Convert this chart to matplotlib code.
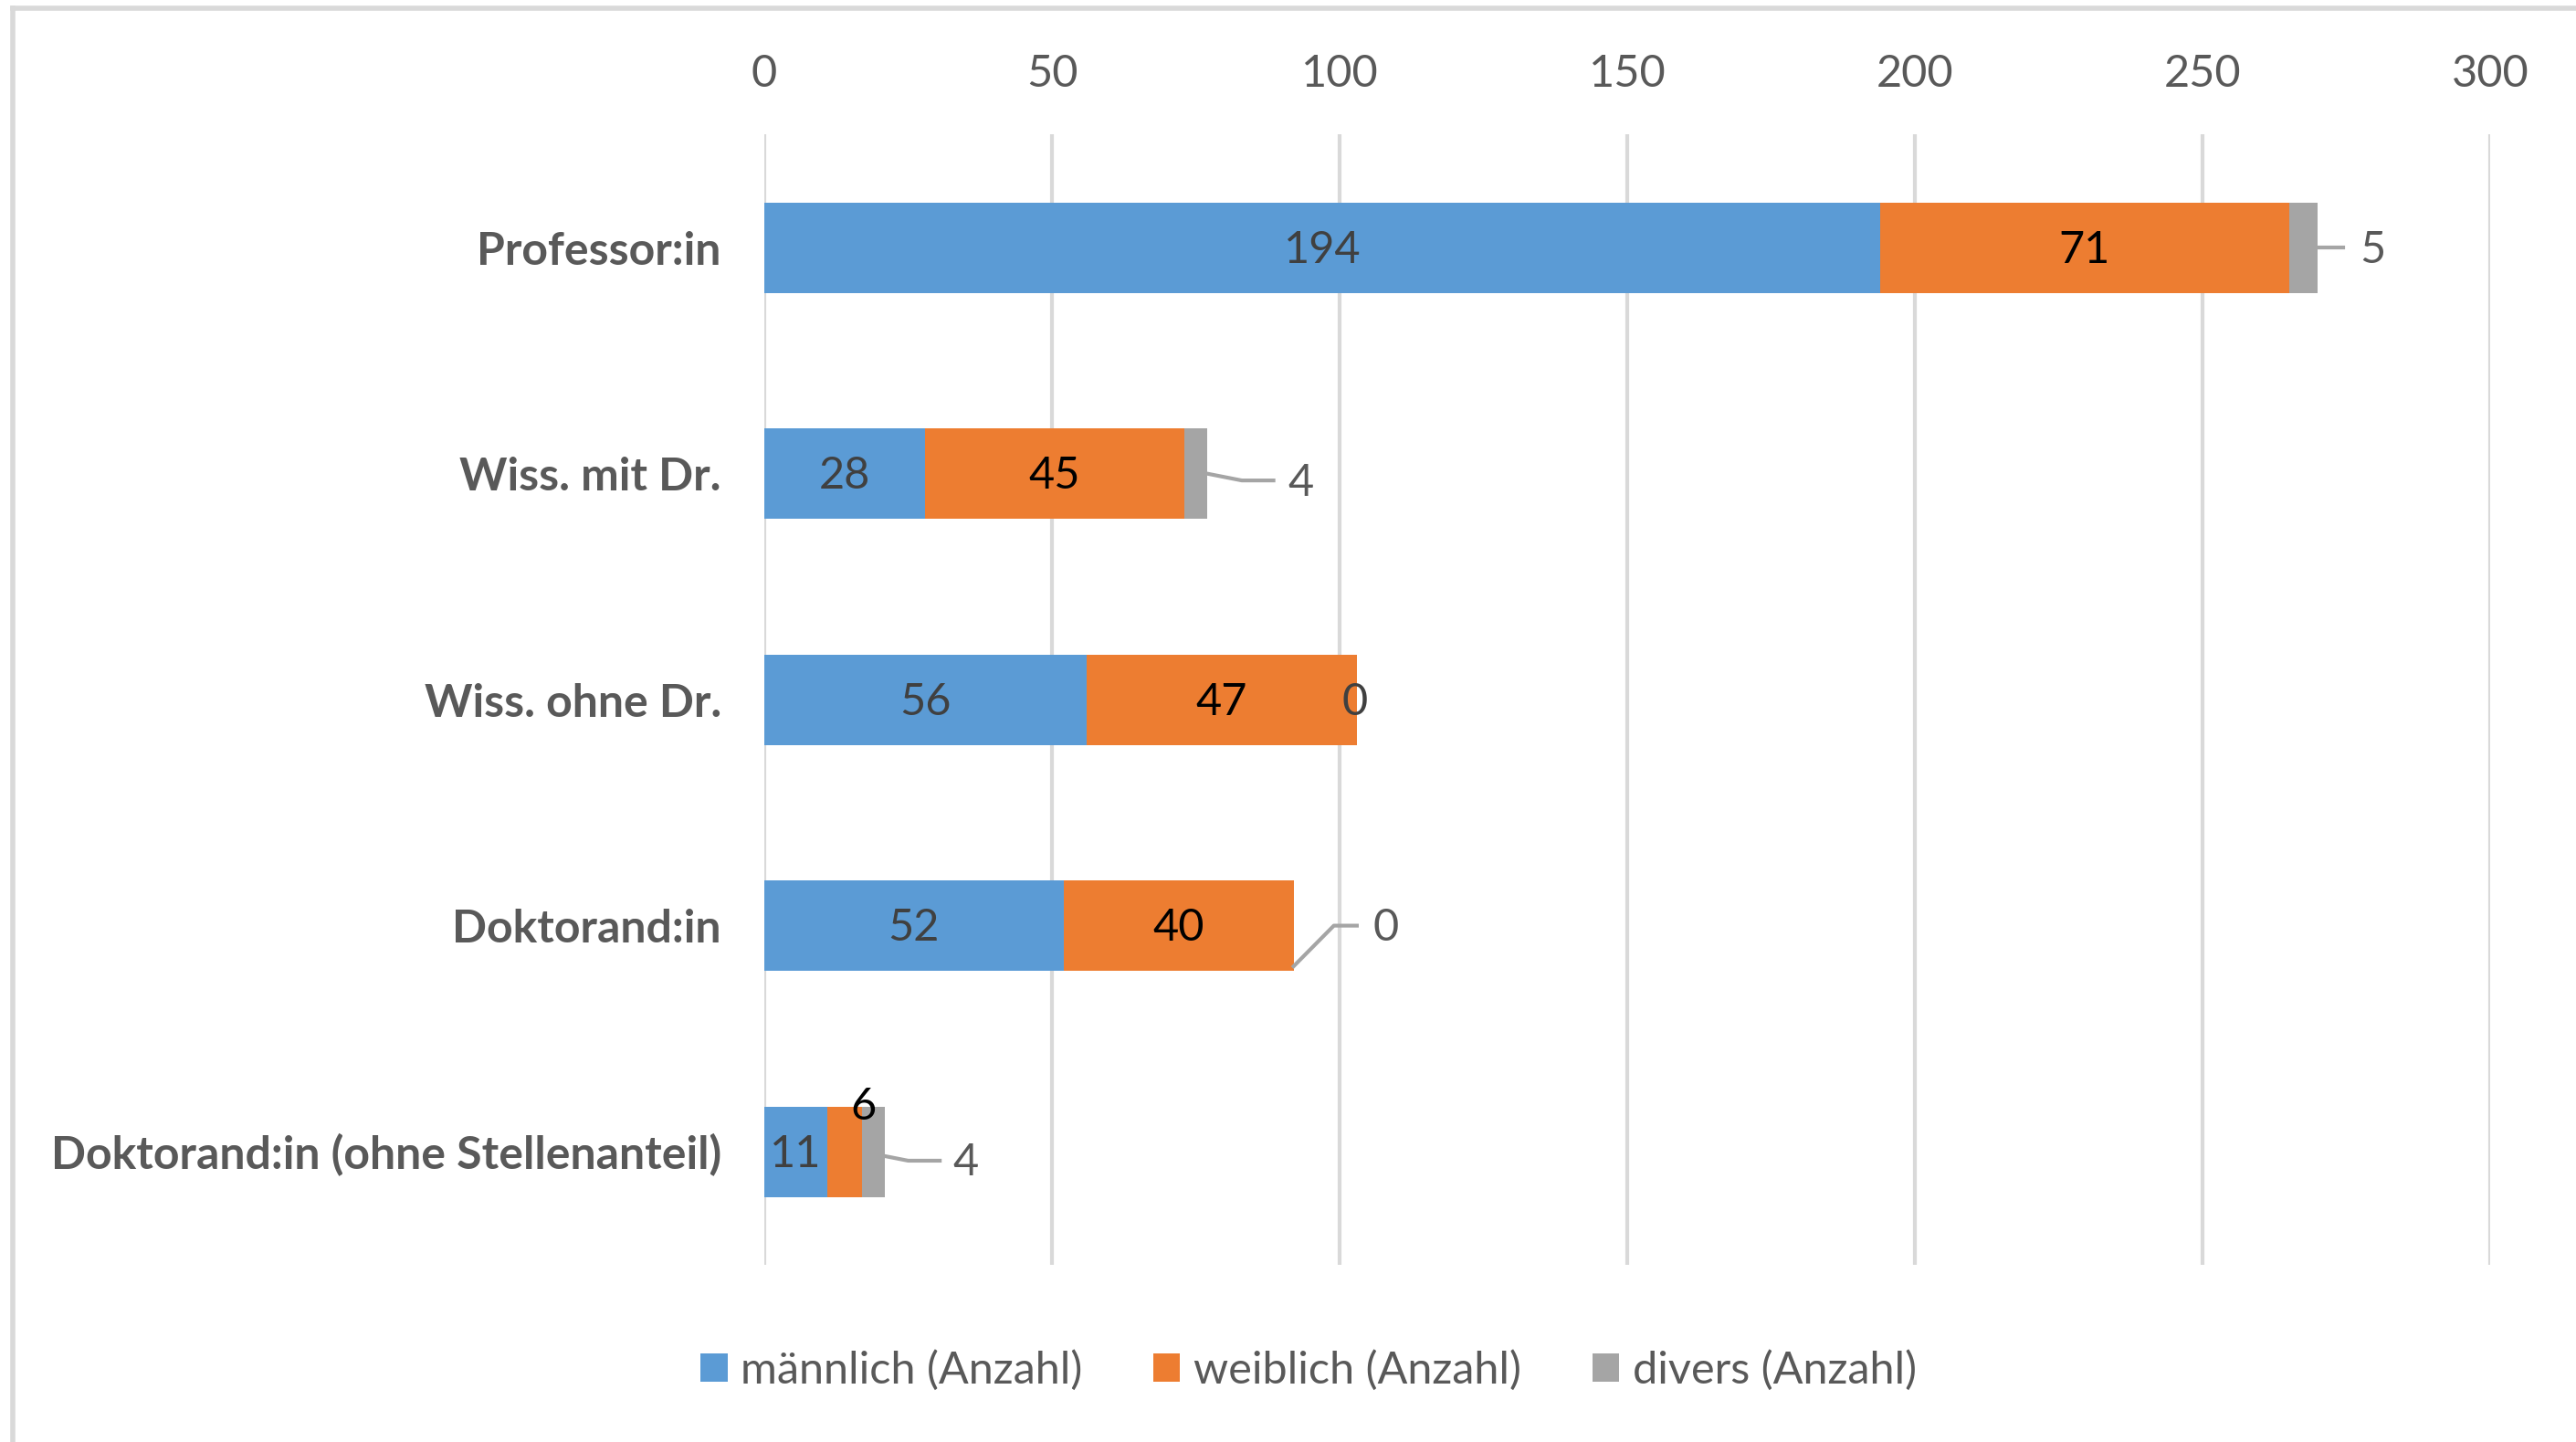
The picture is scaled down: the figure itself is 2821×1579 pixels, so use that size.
import matplotlib.pyplot as plt
from matplotlib.lines import Line2D

# Daten
kategorien = ["Professor:in", "Wiss. mit Dr.", "Wiss. ohne Dr.", "Doktorand:in",
              "Doktorand:in (ohne Stellenanteil)"]
maennlich = [194, 28, 56, 52, 11]
weiblich = [71, 45, 47, 40, 6]
divers = [5, 4, 0, 0, 4]
x_ticks = [0, 50, 100, 150, 200, 250, 300]

farben = {"m": "#5B9BD5", "w": "#ED7D31", "d": "#A5A5A5"}
grau_text = "#595959"
fs = 17.5

plt.rcParams['font.family'] = ['Lato', 'DejaVu Sans']

fig = plt.figure(figsize=(2821 / 200, 1579 / 200), dpi=200)
ax = fig.add_axes([0.2967, 0.123, 0.67, 0.7836])

y = list(range(len(kategorien)))
links_w = maennlich
links_d = [m + w for m, w in zip(maennlich, weiblich)]

ax.barh(y, maennlich, height=0.4, color=farben["m"], label="männlich (Anzahl)", zorder=3)
ax.barh(y, weiblich, left=links_w, height=0.4, color=farben["w"], label="weiblich (Anzahl)", zorder=3)
ax.barh(y, divers, left=links_d, height=0.4, color=farben["d"], label="divers (Anzahl)", zorder=3)

ax.set_xlim(0, 300)
ax.set_ylim(4.5, -0.5)
ax.set_xticks(x_ticks)
ax.xaxis.tick_top()
ax.tick_params(axis='x', length=0, pad=16, labelsize=fs, labelcolor=grau_text)
ax.tick_params(axis='y', length=0, pad=17, labelsize=18, labelcolor=grau_text)
ax.set_yticks(y)
ax.set_yticklabels(kategorien, fontweight='bold')
ax.grid(axis='x', color="#D9D9D9", linewidth=1.5, zorder=0)
for s in ax.spines.values():
    s.set_visible(False)

# Datenbeschriftungen
for i in y:
    ax.text(maennlich[i] / 2, i + 0.01, str(maennlich[i]), ha='center', va='center',
            fontsize=fs, color="#404040", zorder=4)
    if i < 4:
        ax.text(maennlich[i] + weiblich[i] / 2, i + 0.01, str(weiblich[i]), ha='center', va='center',
                fontsize=fs, color="black", zorder=4)

# kleine Segmente / Fuehrungslinien
lc = "#A5A5A5"
ax.text(links_d[4] + 0.2, 3.8, str(weiblich[4]), ha='center', va='center',
        fontsize=fs, color="black", zorder=4)

ende = [m + w + d for m, w, d in zip(maennlich, weiblich, divers)]
# Professor:in
ax.add_line(Line2D([ende[0], ende[0] + 4.5], [0, 0], color=lc, lw=1.5, zorder=4))
ax.text(ende[0] + 9.5, 0.01, str(divers[0]), ha='center', va='center', fontsize=fs, color=grau_text)
# Wiss. mit Dr.
ax.add_line(Line2D([ende[1], ende[1] + 6, ende[1] + 11.5], [1.0, 1.03, 1.03], color=lc, lw=1.5, zorder=4))
ax.text(ende[1] + 16.3, 1.04, str(divers[1]), ha='center', va='center', fontsize=fs, color=grau_text)
# Wiss. ohne Dr.
ax.text(ende[2] - 0.3, 2.01, str(divers[2]), ha='center', va='center', fontsize=fs, color="#404040", zorder=4)
# Doktorand:in
ax.add_line(Line2D([ende[3], ende[3] + 7, ende[3] + 11], [3.18, 3.0, 3.0], color=lc, lw=1.5, zorder=4))
ax.text(ende[3] + 16, 3.01, str(divers[3]), ha='center', va='center', fontsize=fs, color=grau_text)
# Doktorand:in (ohne Stellenanteil)
ax.add_line(Line2D([ende[4], ende[4] + 4, ende[4] + 9.5], [4.02, 4.04, 4.04], color=lc, lw=1.5, zorder=4))
ax.text(ende[4] + 14, 4.05, str(divers[4]), ha='center', va='center', fontsize=fs, color=grau_text)

leg = fig.legend(loc='center', bbox_to_anchor=(0.508, 0.05), ncol=3, frameon=False,
                 fontsize=fs, handlelength=0.6, handleheight=0.6, handletextpad=0.3,
                 columnspacing=1.6)
for t in leg.get_texts():
    t.set_color(grau_text)

# Rahmen
fig.add_artist(Line2D([0.005, 0.005], [0.0, 0.994], color="#D9D9D9", lw=2))
fig.add_artist(Line2D([0.005, 1.0], [0.994, 0.994], color="#D9D9D9", lw=2))

fig.savefig("out.png", dpi=200)
